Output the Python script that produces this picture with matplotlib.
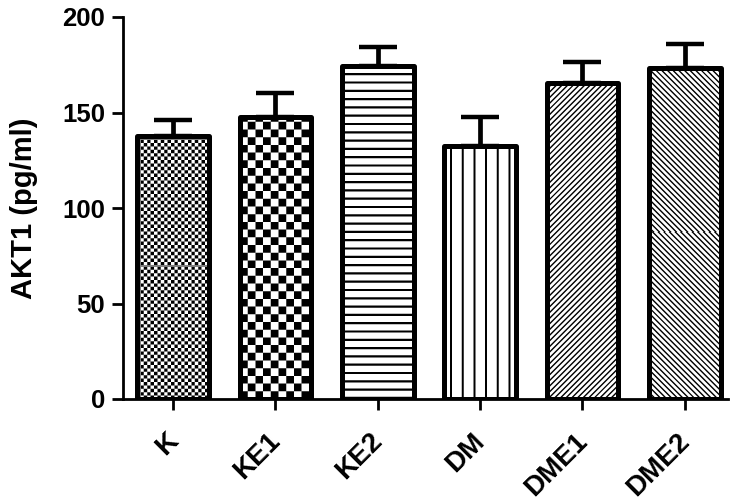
import numpy as np
import matplotlib
matplotlib.use("Agg")
import matplotlib.pyplot as plt
import matplotlib.transforms as mtransforms

# ---- data ----
groups = ["K", "KE1", "KE2", "DM", "DME1", "DME2"]
akt1_mean = [137.7, 147.6, 174.3, 132.5, 165.4, 173.3]
akt1_err = [8.4, 12.6, 10.0, 15.0, 11.0, 12.6]
patterns = ["check_fine", "check_coarse", "hlines", "vlines", "diag_up", "diag_down"]

plt.rcParams['font.family'] = ['Liberation Sans', 'DejaVu Sans']
plt.rcParams['font.weight'] = 'bold'


def make_pattern(kind, w, h, ss=4):
    # black/white fill pattern in pixel space, supersampled then averaged
    ys, xs = np.mgrid[0:h * ss, 0:w * ss]
    xs = (xs + 0.5) / ss
    ys = (ys + 0.5) / ss
    if kind == "check_fine":
        c = 3.4
        black = ((np.floor(xs / c) + np.floor(ys / c)) % 2) == 0
    elif kind == "check_coarse":
        c = 7.7
        black = ((np.floor(xs / c) + np.floor(ys / c)) % 2) == 0
    elif kind == "hlines":
        black = (ys % 8.3) < 2.2
    elif kind == "vlines":
        black = ((xs - 6) % 11.7) < 2.0
    elif kind == "diag_up":
        u = (xs - ys) / np.sqrt(2)
        black = (u % 4.0) < 1.4
    else:
        u = (xs + ys) / np.sqrt(2)
        black = (u % 4.0) < 1.4
    arr = black.astype(float).reshape(h, ss, w, ss).mean(axis=(1, 3))
    return 1.0 - arr


fig = plt.figure(figsize=(7.3, 5.0), dpi=100)
ax = fig.add_axes([0.1685, 0.202, 0.8285, 0.764])

x = np.arange(len(groups))
width = 0.7

ax.set_xlim(-0.49, 5.42)
ax.set_ylim(0, 200)

# error bars (upper only), behind the bars
ax.errorbar(x, akt1_mean, yerr=[np.zeros(len(x)), akt1_err], fmt='none',
            ecolor='black', elinewidth=3.4, capsize=14, capthick=3.2,
            zorder=1)

fills = ax.bar(x, akt1_mean, width, color='white', edgecolor='none', zorder=2)

fig.canvas.draw()
for rect, kind in zip(fills, patterns):
    x0, y0 = rect.get_x(), rect.get_y()
    x1, y1 = x0 + rect.get_width(), y0 + rect.get_height()
    (px0, py0), (px1, py1) = ax.transData.transform([(x0, y0), (x1, y1)])
    w = max(int(round(px1 - px0)), 1)
    h = max(int(round(py1 - py0)), 1)
    img = make_pattern(kind, w, h)
    im = ax.imshow(img, cmap='gray', vmin=0, vmax=1, origin='lower',
                   extent=(x0, x1, y0, y1), aspect='auto',
                   interpolation='nearest', zorder=3)
    im.set_clip_path(rect)

outline = ax.bar(x, akt1_mean, width, facecolor='none', edgecolor='black',
                 linewidth=3.6, zorder=4)
for r in outline:
    r.set_joinstyle('round')

ax.set_xlim(-0.49, 5.42)
ax.set_ylim(0, 200)

for s in ['top', 'right']:
    ax.spines[s].set_visible(False)
for s in ['left', 'bottom']:
    ax.spines[s].set_linewidth(2.0)

ax.set_yticks([0, 50, 100, 150, 200])
ax.tick_params(axis='both', direction='out', length=8, width=2.0,
               labelsize=18.5, pad=5)
ax.set_xticks(x)
ax.set_xticklabels(groups, rotation=45, ha='right', va='top',
                   rotation_mode='anchor', fontsize=20, fontweight='bold')
offset = mtransforms.ScaledTranslation(-6 / 72, -8 / 72, fig.dpi_scale_trans)
for lab in ax.get_xticklabels():
    lab.set_transform(lab.get_transform() + offset)
for lab in ax.get_yticklabels():
    lab.set_fontweight('bold')

ax.set_ylabel("AKT1 (pg/ml)", fontsize=21, fontweight='bold')
ax.yaxis.set_label_coords(-0.14, 0.5)

fig.savefig("out.png", dpi=100)
